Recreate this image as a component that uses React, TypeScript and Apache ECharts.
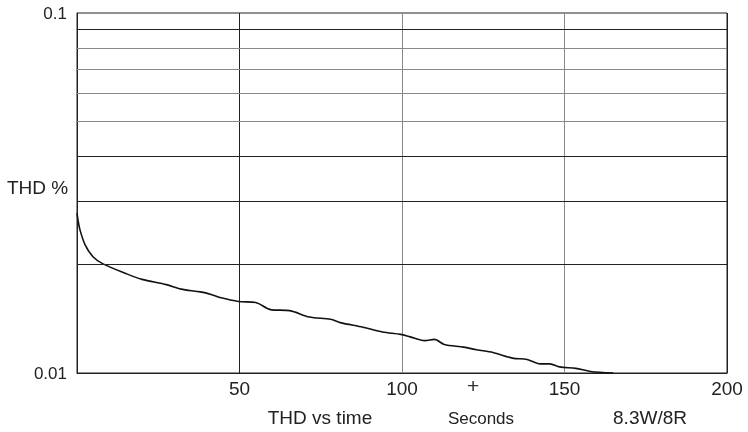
import React, { useEffect, useRef } from "react";
import * as echarts from "echarts";

const times = [0, 0.3, 0.9, 2.5, 5, 8, 15, 20, 27.5, 32, 38, 41.5, 44, 49.7, 55, 59.5, 65.5, 71.5, 78, 81, 88, 94, 99.6, 102.5, 107, 110, 113, 119, 123, 128, 134, 138.5, 142.5, 145.5, 148.5, 153.5, 158, 165];
const thd = [0.0278, 0.0266, 0.025, 0.0227, 0.021, 0.0201, 0.0189, 0.0182, 0.0176, 0.0171, 0.0168, 0.0165, 0.0162, 0.0158, 0.0157, 0.015, 0.0149, 0.0143, 0.0141, 0.0138, 0.0134, 0.013, 0.0128, 0.0126, 0.0123, 0.0124, 0.012, 0.0118, 0.0116, 0.0114, 0.011, 0.0109, 0.0106, 0.0106, 0.0104, 0.0103, 0.0101, 0.01];
const hGridValues = [0.02, 0.03, 0.04, 0.05, 0.06, 0.07, 0.08, 0.09];
const hGridDark = [true, true, true, false, false, false, false, true];
const xTickLabels: Record<number, string> = { 0: "", 50: "50", 100: "100", 150: "150", 200: "200" };
const yTickLabels: Record<string, string> = { "0.01": "0.01", "0.1": "0.1" };

const FONT = "Liberation Sans, Arial, Helvetica, sans-serif";

export default function App() {
  const ref = useRef<HTMLDivElement>(null);
  useEffect(() => {
    if (!ref.current) return;
    const chart = echarts.init(ref.current, null, { renderer: "svg" });
    chart.setOption({
      animation: false,
      grid: { left: 77, right: 21, top: 13, bottom: 59, show: true, borderColor: "#222", borderWidth: 1, backgroundColor: "transparent" },
      xAxis: {
        type: "value",
        min: 0,
        max: 200,
        interval: 50,
        axisLine: { show: true, lineStyle: { color: "#222" } },
        axisTick: { show: false },
        axisLabel: { color: "#222", fontFamily: FONT, fontSize: 19, margin: 6, formatter: (v: number) => xTickLabels[v] ?? String(v) },
        splitLine: { show: true, lineStyle: { color: ["#222", "#222", "#888", "#888", "#222"], width: 1 } },
      },
      yAxis: {
        type: "log",
        logBase: 10,
        min: 0.01,
        max: 0.1,
        axisLine: { show: true, lineStyle: { color: "#222" } },
        axisTick: { show: false },
        axisLabel: {
          color: "#222",
          fontFamily: FONT,
          fontSize: 17,
          margin: 10,
          formatter: (v: number) => {
            const k = String(Number(v.toPrecision(3)));
            return yTickLabels[k] ?? k;
          },
        },
        splitLine: { show: false },
      },
      series: [
        {
          type: "line",
          data: times.map((t, i) => [t, thd[i]]),
          showSymbol: false,
          symbol: "none",
          smooth: 0.3,
          lineStyle: { color: "#111", width: 1.6 },
          markLine: {
            silent: true,
            symbol: "none",
            label: { show: false },
            data: hGridValues.map((v, i) => ({
              yAxis: v,
              lineStyle: { color: hGridDark[i] ? "#222" : "#888", width: 1, type: "solid" },
            })),
          },
        },
      ],
      graphic: [
        { type: "text", x: 7, y: 187, style: { text: "THD %", font: `19px ${FONT}`, fill: "#222", verticalAlign: "middle" } },
        { type: "text", x: 320, y: 417, style: { text: "THD vs time", font: `19px ${FONT}`, fill: "#222", align: "center", verticalAlign: "middle" } },
        { type: "text", x: 481, y: 418, style: { text: "Seconds", font: `17px ${FONT}`, fill: "#222", align: "center", verticalAlign: "middle" } },
        { type: "text", x: 650, y: 417, style: { text: "8.3W/8R", font: `19px ${FONT}`, fill: "#222", align: "center", verticalAlign: "middle" } },
        { type: "text", x: 473, y: 385, style: { text: "+", font: `21px ${FONT}`, fill: "#333", align: "center", verticalAlign: "middle" } },
      ],
    });
    return () => chart.dispose();
  }, []);
  return <div ref={ref} style={{ position: "fixed", left: 0, top: 0, width: 748, height: 432 }} />;
}
